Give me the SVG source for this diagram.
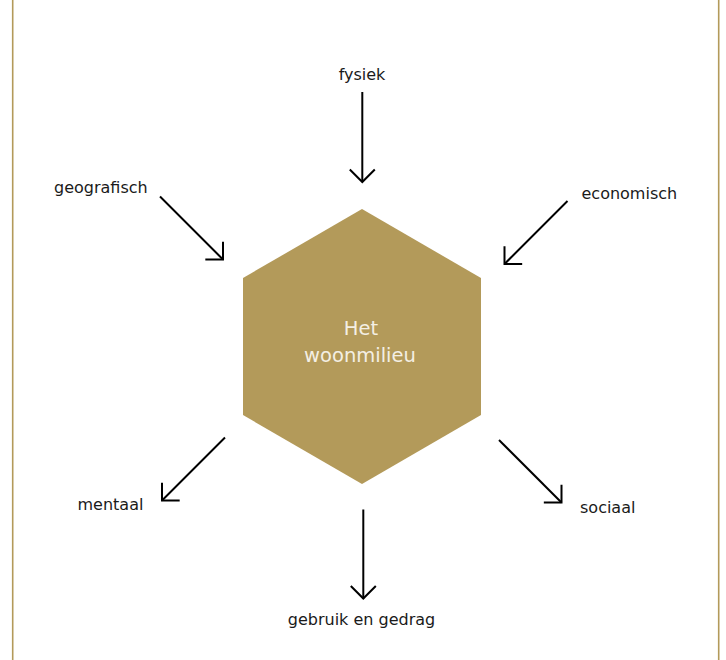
<svg xmlns="http://www.w3.org/2000/svg" width="726" height="660" viewBox="0 0 726 660">
  <style>
    .frame { stroke: #B39A5A; stroke-width: 1.6; }
    .label { font-family: "DejaVu Sans", "Liberation Sans", sans-serif; font-size: 16px; fill: #1a1a1a; }
    .core { font-family: "DejaVu Sans", "Liberation Sans", sans-serif; font-size: 19.5px; fill: #F4EFE4; text-anchor: middle; }
    .arrow { stroke: #000; stroke-width: 2; fill: none; marker-end: url(#chevron); }
  </style>
  <defs>
    <marker id="chevron" markerUnits="userSpaceOnUse" orient="auto" markerWidth="30" markerHeight="30" refX="0" refY="0" viewBox="-15 -15 30 30" overflow="visible">
      <path d="M -12.5 -12.5 L 0 0 L -12.5 12.5" fill="none" stroke="#000" stroke-width="2"/>
    </marker>
  </defs>

  <rect width="726" height="660" fill="#fff"/>
  <!-- side rules of the page frame -->
  <line class="frame" x1="12.7" y1="0" x2="12.7" y2="660"/>
  <line class="frame" x1="718.7" y1="0" x2="718.7" y2="660"/>

  <!-- centre hexagon -->
  <g id="woonmilieu">
    <polygon points="362,209 481,278 481,415 362,484 243,415 243,278" fill="#B39A5A"/>
    <text class="core" x="361" y="335">Het</text>
    <text class="core" x="360" y="362">woonmilieu</text>
  </g>

  <g id="fysiek"><text class="label" x="362" y="80" text-anchor="middle">fysiek</text></g>
  <g id="geografisch"><text class="label" x="54" y="193">geografisch</text></g>
  <g id="economisch"><text class="label" x="581.5" y="199">economisch</text></g>
  <g id="mentaal"><text class="label" x="77.5" y="510">mentaal</text></g>
  <g id="sociaal"><text class="label" x="580" y="513">sociaal</text></g>
  <g id="gebruik-en-gedrag"><text class="label" x="361.5" y="625" text-anchor="middle">gebruik en gedrag</text></g>

  <g id="connectors">
    <line class="arrow" x1="362.3" y1="92" x2="362.3" y2="182"/>
    <line class="arrow" x1="160" y1="196.5" x2="223" y2="259.5"/>
    <line class="arrow" x1="567.5" y1="201" x2="504.5" y2="264"/>
    <line class="arrow" x1="225" y1="437.5" x2="162" y2="500.5"/>
    <line class="arrow" x1="499" y1="440" x2="561.5" y2="502.5"/>
    <line class="arrow" x1="363.3" y1="509.5" x2="363.3" y2="598.5"/>
  </g>
</svg>
